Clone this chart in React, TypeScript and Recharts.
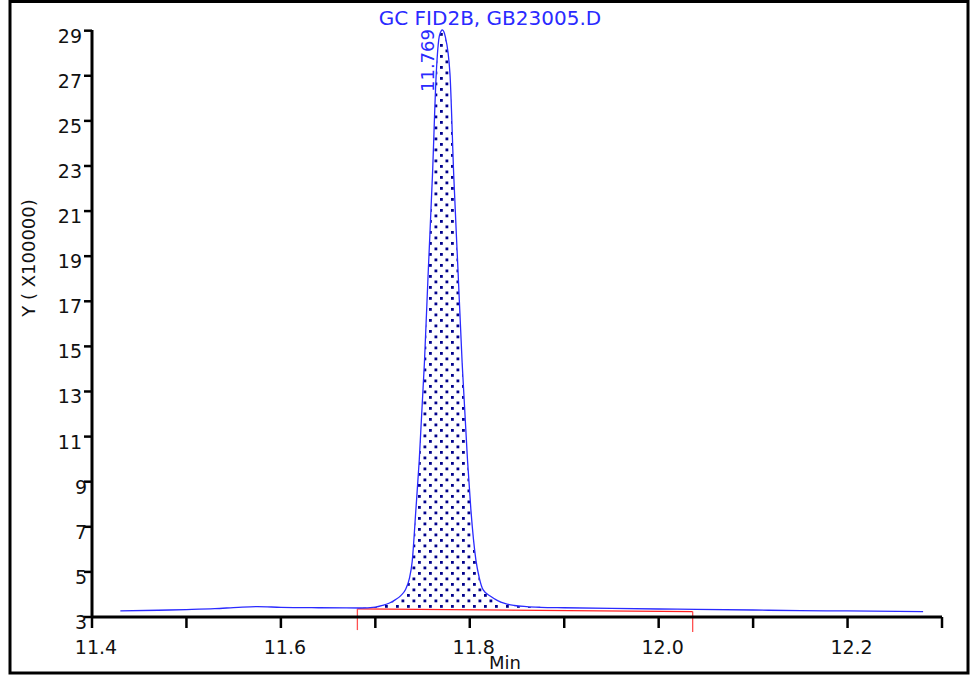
import React from 'react'
import { ComposedChart, Line, Area, XAxis, YAxis, ReferenceLine, ReferenceDot } from 'recharts'

// retention time (min) and detector signal (x100000)
const times = [
  11.43, 11.47, 11.5, 11.53, 11.555, 11.575, 11.6, 11.64, 11.684, 11.7, 11.708, 11.715, 11.721,
  11.727, 11.732, 11.736, 11.739, 11.743, 11.7465, 11.752, 11.756, 11.7605, 11.7645, 11.768,
  11.771, 11.774, 11.779, 11.783, 11.7875, 11.792, 11.7976, 11.8012, 11.8065, 11.81, 11.8142,
  11.822, 11.829, 11.837, 11.847, 11.86, 11.875, 11.9, 11.95, 12.0, 12.04, 12.1, 12.15, 12.2, 12.28,
]
const signal = [
  3.27, 3.3, 3.33, 3.37, 3.43, 3.46, 3.43, 3.41, 3.4, 3.44, 3.52, 3.62, 3.76,
  3.95, 4.22, 4.7, 5.45, 7.8, 9.95, 14.3, 18.3, 22.6, 27.1, 28.8,
  29.03, 28.75, 27.1, 22.6, 18.4, 14.2, 9.95, 7.74, 5.52, 4.75, 4.2,
  3.92, 3.74, 3.6, 3.51, 3.46, 3.43, 3.41, 3.38, 3.355, 3.34, 3.31, 3.28, 3.27, 3.24,
]
// integration baseline under the peak (null = not integrated)
const integrationBase = [
  null, null, null, null, null, null, null, null, 3.36, 3.35, 3.35, 3.35, 3.35,
  3.35, 3.34, 3.34, 3.34, 3.34, 3.34, 3.34, 3.34, 3.33, 3.33, 3.33,
  3.33, 3.33, 3.33, 3.33, 3.32, 3.32, 3.32, 3.32, 3.32, 3.32, 3.32,
  3.31, 3.31, 3.31, 3.30, 3.30, 3.30, null, null, null, null, null, null, null, null,
]

const baselineTimes = [11.681, 12.036]
const baselineValues = [3.36, 3.24]
const markerBottoms = [2.42, 2.34]

const xTicks = [11.4, 11.5, 11.6, 11.7, 11.8, 11.9, 12.0, 12.1, 12.2, 12.3]
const yTicks = [3, 5, 7, 9, 11, 13, 15, 17, 19, 21, 23, 25, 27, 29]

const apexTime = 11.771
const apexValue = 29.03
const peakLabel = '11.769'
const title = 'GC FID2B, GB23005.D'
const yLabel = 'Y ( X100000)'
const xLabel = 'Min'

const FONT = '"DejaVu Sans", sans-serif'
const BLUE = '#2a2aff'

const rows = times.map((t, i) => ({
  t,
  y: signal[i],
  band: integrationBase[i] == null ? null : [integrationBase[i], signal[i]],
}))
const baselineRows = baselineTimes.map((t, i) => ({ t, v: baselineValues[i] }))

function XTick({ x, y, payload }: any) {
  const v = payload.value as number
  if (Math.round(v * 10) % 2 !== 0) return null
  return (
    <text x={x + 4} y={y + 24} textAnchor="middle" fontFamily={FONT} fontSize={19} fill="#111">
      {v.toFixed(1)}
    </text>
  )
}

function YTick({ x, y, payload }: any) {
  const s = String(payload.value)
  return (
    <text x={x + (s.length === 1 ? 5 : 0)} y={y + 12} textAnchor="end" fontFamily={FONT} fontSize={19} fill="#111">
      {s}
    </text>
  )
}

function ApexLabel({ cx, cy }: any) {
  const lx = cx - 8
  const ly = cy + 62
  return (
    <text x={lx} y={ly} transform={`rotate(-90 ${lx} ${ly})`} fontFamily={FONT} fontSize={18} fill={BLUE}>
      {peakLabel}
    </text>
  )
}

export default function App() {
  return (
    <div style={{ position: 'fixed', left: 0, top: 0, width: 972, height: 675, background: '#fff' }}>
      <ComposedChart
        width={972}
        height={675}
        data={rows}
        margin={{ top: 30, right: 30, bottom: 28, left: 30 }}
      >
        <defs>
          <pattern id="dots" width="11" height="11" patternUnits="userSpaceOnUse">
            <rect width="11" height="11" fill="#fff" />
            <rect x="0" y="0" width="2.8" height="2.8" fill="#00008b" />
            <rect x="5.5" y="5.5" width="2.8" height="2.8" fill="#00008b" />
          </pattern>
        </defs>
        <XAxis
          dataKey="t"
          type="number"
          domain={[11.4, 12.3]}
          ticks={xTicks}
          interval={0}
          height={30}
          tickSize={11}
          axisLine={{ stroke: '#000', strokeWidth: 3 }}
          tickLine={{ stroke: '#000', strokeWidth: 2.5 }}
          tick={<XTick />}
        />
        <YAxis
          type="number"
          domain={[3, 29]}
          ticks={yTicks}
          interval={0}
          width={62}
          tickSize={8}
          axisLine={{ stroke: '#000', strokeWidth: 3 }}
          tickLine={{ stroke: '#000', strokeWidth: 2.5 }}
          tick={<YTick />}
        />
        <Area
          dataKey="band"
          type="monotone"
          fill="url(#dots)"
          fillOpacity={1}
          stroke="none"
          isAnimationActive={false}
        />
        <Line
          data={baselineRows}
          dataKey="v"
          type="linear"
          stroke="#ff2020"
          strokeWidth={1.3}
          dot={false}
          isAnimationActive={false}
        />
        {baselineTimes.map((t, i) => (
          <ReferenceLine
            key={t}
            segment={[{ x: t, y: baselineValues[i] }, { x: t, y: markerBottoms[i] }]}
            stroke="#ff5050"
            strokeWidth={1.3}
            ifOverflow="visible"
          />
        ))}
        <Line
          dataKey="y"
          type="monotone"
          stroke={BLUE}
          strokeWidth={1.3}
          dot={false}
          isAnimationActive={false}
        />
        <ReferenceDot x={apexTime} y={apexValue} r={0} shape={<ApexLabel />} />
      </ComposedChart>
      <svg width={972} height={675} style={{ position: 'absolute', left: 0, top: 0, pointerEvents: 'none' }}>
        <text x={490} y={25} textAnchor="middle" fontFamily={FONT} fontSize={20} fill={BLUE}>
          {title}
        </text>
        <text x={35} y={258} transform="rotate(-90 35 258)" textAnchor="middle" fontFamily={FONT} fontSize={18} fill="#111">
          {yLabel}
        </text>
        <text x={505} y={669} textAnchor="middle" fontFamily={FONT} fontSize={18} fill="#111">
          {xLabel}
        </text>
        <rect x={10} y={1.5} width={958} height={671.5} fill="none" stroke="#000" strokeWidth={3} />
      </svg>
    </div>
  )
}
